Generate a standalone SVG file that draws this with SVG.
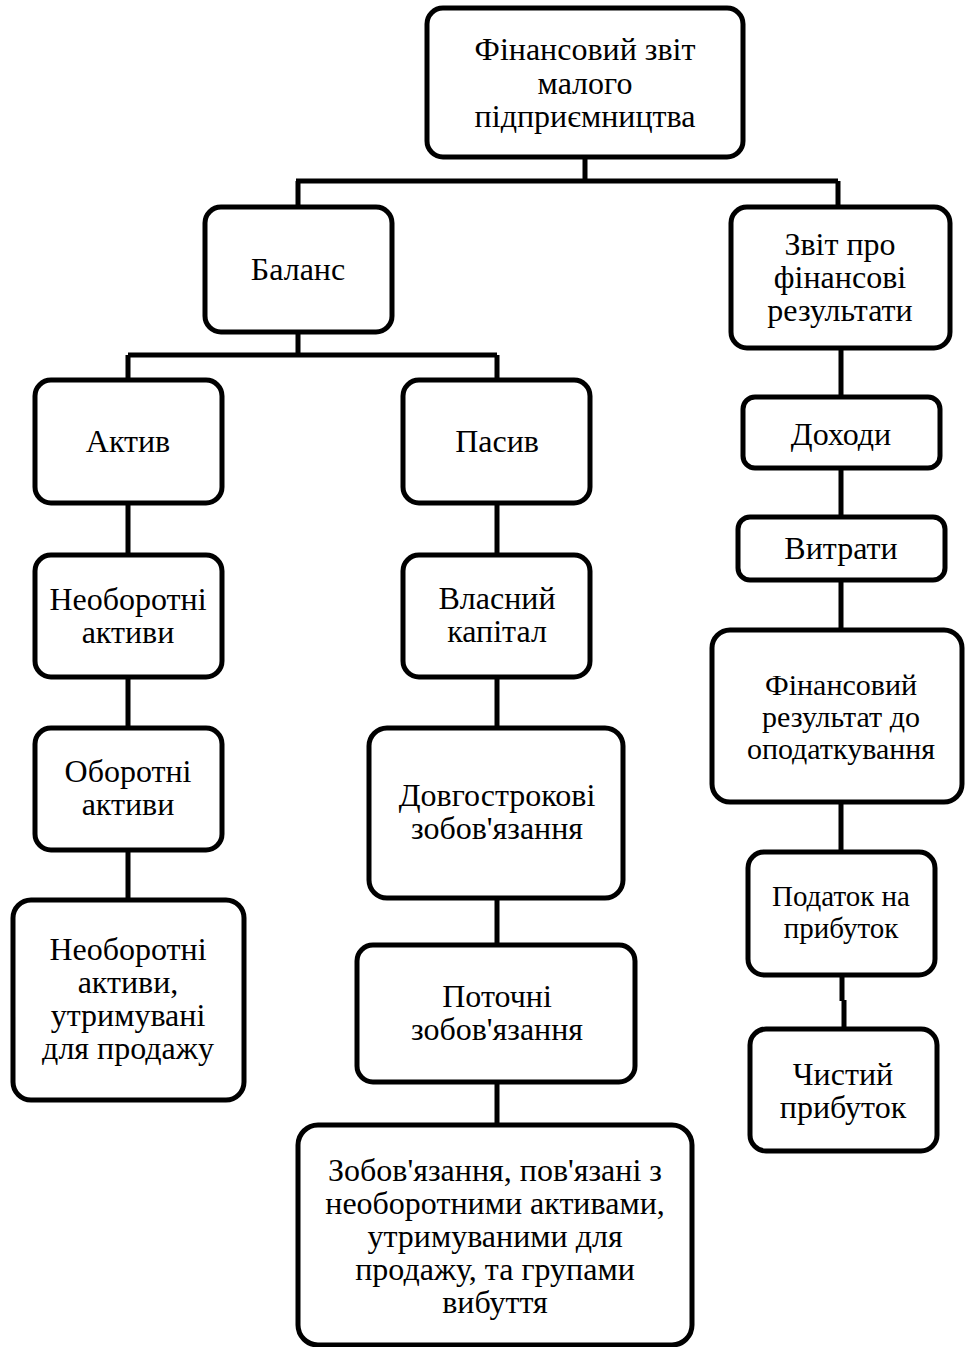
<svg xmlns="http://www.w3.org/2000/svg" width="965" height="1347" viewBox="0 0 965 1347">
<style>
.b{fill:#fff;stroke:#000;stroke-width:5}
.c{stroke:#000;stroke-width:5;fill:none}
text{font-family:"Liberation Serif","Times New Roman",serif;font-size:32px;fill:#000;text-anchor:middle}
.s{font-size:30px}
.t{font-size:29px}
</style>
<rect width="965" height="1347" fill="#fff"/>
<g id="connectors">
<path class="c" d="M585 157V181M296 181H838M298 181V207M838 181V207"/>
<path class="c" d="M298 332V355M128 355H497M128 355V380M497 355V380"/>
<path class="c" d="M128 503V555M128 677V728M128 850V900"/>
<path class="c" d="M497 503V555M497 677V728M497 898V945M497 1082V1125"/>
<path class="c" d="M841 348V397M841 468V517M841 580V630M841 802V852M842 975V1001M844 1000V1029"/>
</g>
<g id="n1"><rect class="b" x="427" y="8" width="316" height="149" rx="16"/><text x="585" y="60">Фінансовий звіт</text><text x="585" y="94">малого</text><text x="585" y="127">підприємництва</text></g>
<g id="n2"><rect class="b" x="205" y="207" width="187" height="125" rx="16"/><text x="298" y="280">Баланс</text></g>
<g id="n3"><rect class="b" x="731" y="207" width="219" height="141" rx="16"/><text x="840" y="255">Звіт про</text><text x="840" y="288">фінансові</text><text x="840" y="321">результати</text></g>
<g id="n4"><rect class="b" x="35" y="380" width="187" height="123" rx="16"/><text x="128" y="452">Актив</text></g>
<g id="n5"><rect class="b" x="35" y="555" width="187" height="122" rx="16"/><text x="128" y="610">Необоротні</text><text x="128" y="643">активи</text></g>
<g id="n6"><rect class="b" x="35" y="728" width="187" height="122" rx="16"/><text x="128" y="782">Оборотні</text><text x="128" y="815">активи</text></g>
<g id="n7"><rect class="b" x="13" y="900" width="231" height="200" rx="18"/><text x="128" y="960">Необоротні</text><text x="128" y="993">активи,</text><text x="128" y="1026">утримувані</text><text x="128" y="1059">для продажу</text></g>
<g id="n8"><rect class="b" x="403" y="380" width="187" height="123" rx="16"/><text x="497" y="452">Пасив</text></g>
<g id="n9"><rect class="b" x="403" y="555" width="187" height="122" rx="16"/><text x="497" y="609">Власний</text><text x="497" y="642">капітал</text></g>
<g id="n10"><rect class="b" x="369" y="728" width="254" height="170" rx="18"/><text x="497" y="806">Довгострокові</text><text x="497" y="839">зобов'язання</text></g>
<g id="n11"><rect class="b" x="357" y="945" width="278" height="137" rx="16"/><text x="497" y="1007">Поточні</text><text x="497" y="1040">зобов'язання</text></g>
<g id="n12"><rect class="b" x="298" y="1125" width="394" height="220" rx="20"/><text x="495" y="1181">Зобов'язання, пов'язані з</text><text x="495" y="1214">необоротними активами,</text><text x="495" y="1247">утримуваними для</text><text x="495" y="1280">продажу, та групами</text><text x="495" y="1313">вибуття</text></g>
<g id="n13"><rect class="b" x="743" y="397" width="197" height="71" rx="12"/><text x="841" y="445">Доходи</text></g>
<g id="n14"><rect class="b" x="738" y="517" width="207" height="63" rx="12"/><text x="841" y="559">Витрати</text></g>
<g id="n15"><rect class="b" x="712" y="630" width="250" height="172" rx="18"/><text class="s" x="841" y="695">Фінансовий</text><text class="s" x="841" y="727">результат до</text><text class="s" x="841" y="759">оподаткування</text></g>
<g id="n16"><rect class="b" x="748" y="852" width="187" height="123" rx="16"/><text class="t" x="841" y="906">Податок на</text><text class="t" x="841" y="938">прибуток</text></g>
<g id="n17"><rect class="b" x="750" y="1029" width="187" height="122" rx="16"/><text x="843" y="1085">Чистий</text><text x="843" y="1118">прибуток</text></g>
</svg>
